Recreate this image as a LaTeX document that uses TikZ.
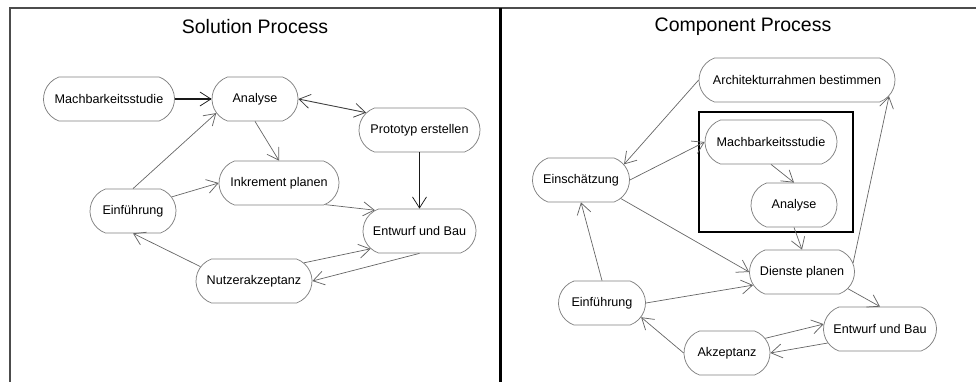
\documentclass[tikz,border=0pt]{standalone}
\usepackage{fontspec}
\setmainfont{Liberation Sans}
\usetikzlibrary{arrows.meta,shapes.misc}

\tikzset{
  vtip/.tip={Straight Barb[length=11pt,width=14pt,line width=0.75pt]},
  proc/.style={rounded rectangle, rounded rectangle arc length=140,
    draw=black!50, line width=0.75pt, fill=white,
    minimum height=44pt, inner xsep=2pt, inner ysep=0pt,
    font=\fontsize{12.6}{14}\selectfont},
  flow/.style={draw=black!60, line width=0.7pt, -vtip},
  flowbold/.style={flow, draw=black!90, line width=1.3pt},
  both/.style={flow, line width=0.9pt, draw=black!75, vtip-vtip},
  paneltitle/.style={font=\fontsize{19.5}{22}\selectfont},
}

\begin{document}
\begin{tikzpicture}[x=1pt,y=-1pt]
  \useasboundingbox (0,0) rectangle (976,382);

  % panel frame
  \draw[black!70, line width=2pt] (9,8) -- (976,8);
  \draw[black!70, line width=2pt] (10,8) -- (10,382);
  \draw[black, line width=3pt] (500.5,8) -- (500.5,382);

  % ---------- Solution Process ----------
  \node[paneltitle] (t1) at (255,27) {Solution Process};

  \node[proc, minimum width=135pt] (mach) at (109,99)   {Machbarkeitsstudie};
  \node[proc, minimum width=90pt]  (ana)  at (255,99)   {Analyse};
  \node[proc, minimum width=125pt] (proto) at (419.5,130) {Prototyp erstellen};
  \node[proc, minimum width=124pt] (ink)  at (279,183)  {Inkrement planen};
  \node[proc, minimum width=90pt]  (einf) at (133,211)  {Einführung};
  \node[proc, minimum width=117pt] (ent)  at (419.5,231) {Entwurf und Bau};
  \node[proc, minimum width=120pt] (nutz) at (254,281)  {Nutzerakzeptanz};

  \draw[flowbold] (mach.east) -- (ana.west);
  \draw[both] (ana.east) -- (proto.162);
  \draw[flow] (ana.south) -- (ink.north);
  \draw[flowbold] (proto.south) -- (ent.north);
  \draw[flow] (einf.north) -- (ana.200);
  \draw[flow] (einf.20) -- (ink.west);
  \draw[flow] (ink.-25) -- (ent.155);
  \draw[flow] (nutz.20) -- (ent.200);
  \draw[flow] (ent.south) -- (nutz.east);
  \draw[flow] (nutz.165) -- (einf.south);

  % ---------- Component Process ----------
  \node[paneltitle] (t2) at (743,27) {Component Process};

  \draw[black, line width=1.6pt] (699,112) rectangle (853,232);

  \node[proc, minimum width=200pt] (arch) at (797,80)  {Architekturrahmen bestimmen};
  \node[proc, minimum width=136pt] (mach2) at (771,142) {Machbarkeitsstudie};
  \node[proc, minimum width=90pt]  (ana2) at (794,205) {Analyse};
  \node[proc, minimum width=101pt] (esch) at (581,180) {Einschätzung};
  \node[proc, minimum width=109pt] (dien) at (802,272) {Dienste planen};
  \node[proc, minimum width=91pt]  (einf2) at (602,303) {Einführung};
  \node[proc, minimum width=117pt] (ent2) at (880,329) {Entwurf und Bau};
  \node[proc, minimum width=90pt]  (akz)  at (727,353) {Akzeptanz};

  \draw[flow] (arch.west) -- (esch.20);
  \draw[flow] (esch.east) -- (mach2.west);
  \draw[flow] (mach2.south) -- (ana2.north);
  \draw[flow] (ana2.south) -- (dien.north);
  \draw[flow] (esch.-25) -- (dien.west);
  \draw[flow] (einf2.north) -- (esch.south);
  \draw[flow] (einf2.east) -- (dien.195);
  \draw[flow] (dien.10) -- (arch.-10);
  \draw[flow] (dien.-20) -- (ent2.north);
  \draw[flow] (akz.21) -- (ent2.175);
  \draw[flow] (ent2.195) -- (akz.east);
  \draw[flow] (akz.west) -- (einf2.-20);
\end{tikzpicture}
\end{document}
